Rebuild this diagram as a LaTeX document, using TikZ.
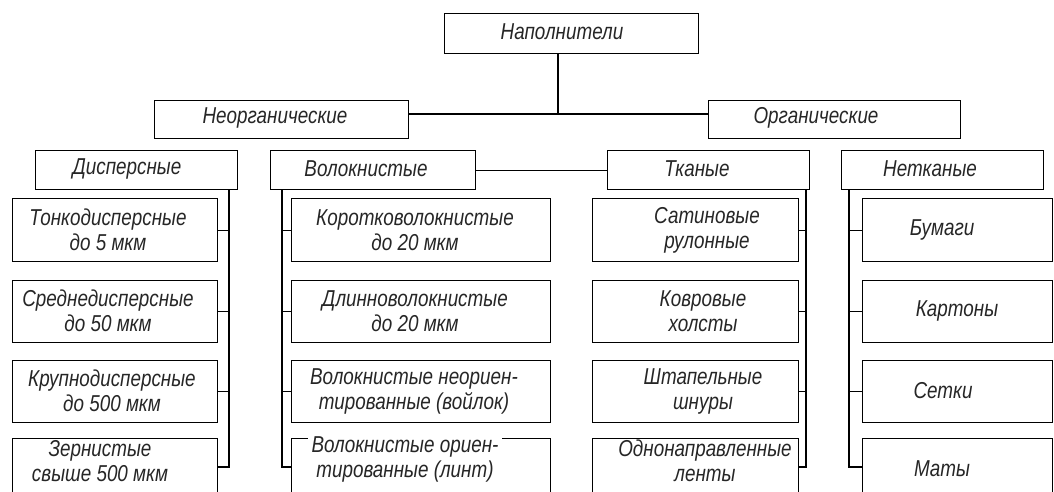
\documentclass[tikz,border=0pt]{standalone}
\usepackage{fontspec}
\newfontfamily\gost[FakeStretch=0.82]{Liberation Sans}
\usetikzlibrary{calc}
\begin{document}
\begin{tikzpicture}[x=1pt,y=-1pt,
  box/.style={draw, line width=1.4pt, anchor=north west, inner sep=0pt},
  txt/.style={font=\gost\itshape\fontsize{23}{25}\selectfont, text=black!85, align=center, inner sep=0pt},
  link/.style={line width=1.4pt}]
\useasboundingbox (0,0) rectangle (1054,492);
\clip (0,0) rectangle (1054,492);
% top levels
\node[box, minimum width=254pt, minimum height=40pt] (root) at (444,13) {};
\node[box, minimum width=254pt, minimum height=38pt] (inorg) at (154,100) {};
\node[box, minimum width=252pt, minimum height=38pt] (org) at (708,100) {};
\node[box, minimum width=202pt, minimum height=39pt] (disp) at (35,150) {};
\node[box, minimum width=205pt, minimum height=39pt] (volok) at (270,150) {};
\node[box, minimum width=202pt, minimum height=39pt] (tkan) at (607,150) {};
\node[box, minimum width=202pt, minimum height=39pt] (netk) at (841,150) {};
\node[txt] at (562,32) {Наполнители};
\node[txt] at (275,118) {Неорганические};
\node[txt] at (816,118) {Органические};
\node[txt] at (127,169) {Дисперсные};
\node[txt] at (366,169) {Волокнистые};
\node[txt] at (697,169) {Тканые};
\node[txt] at (930,169) {Нетканые};
% children boxes
\foreach \c/\x/\w in {D/12/205, V/291/259, T/592/206, N/862/190}{
  \node[box, minimum width=\w pt, minimum height=63pt] (\c1) at (\x,198) {};
  \node[box, minimum width=\w pt, minimum height=62pt] (\c2) at (\x,280) {};
  \node[box, minimum width=\w pt, minimum height=62pt] (\c3) at (\x,360) {};
  \node[box, minimum width=\w pt, minimum height=58pt] (\c4) at (\x,438) {};
}
% texts
\node[txt] at (108,230) {Тонкодисперсные\\до 5 мкм};
\node[txt] at (108,311) {Среднедисперсные\\до 50 мкм};
\node[txt] at (112,391) {Крупнодисперсные\\до 500 мкм};
\node[txt] at (100,461) {Зернистые\\свыше 500 мкм};
\node[txt] at (415,230) {Коротковолокнистые\\до 20 мкм};
\node[txt] at (415,311) {Длинноволокнистые\\до 20 мкм};
\node[txt] at (414,391) {Волокнистые неориен-\\тированные (войлок)};
\node[txt, fill=white, inner xsep=4pt, inner ysep=2pt, anchor=north] at (405,434) {Волокнистые ориен-\\тированные (линт)};
\node[txt] at (707,230) {Сатиновые\\рулонные};
\node[txt] at (703,311) {Ковровые\\холсты};
\node[txt] at (703,391) {Штапельные\\шнуры};
\node[txt] at (705,461) {Однонаправленные\\ленты};
\node[txt] at (942,230) {Бумаги};
\node[txt] at (957,311) {Картоны};
\node[txt] at (943,391) {Сетки};
\node[txt] at (942,469) {Маты};
% connectors
\coordinate (j) at (558,114);
\draw[link] (root.south -| j) -- (j);
\draw[link] (inorg.east |- j) -- (org.west |- j);
\draw[link] (volok.east) -- (tkan.west);
\coordinate (db) at (229,467);
\coordinate (vb) at (282,467);
\coordinate (tb) at (806,467);
\coordinate (nb) at (849,467);
\draw[link] (disp.south -| db) -- (db) -- (D4.east |- db);
\draw[link] (volok.south -| vb) -- (vb) -- (V4.west |- vb);
\draw[link] (tkan.south -| tb) -- (tb) -- (T4.east |- tb);
\draw[link] (netk.south -| nb) -- (nb) -- (N4.west |- nb);
\foreach \i in {1,2,3}{
  \draw[link] (D\i.east) -- (D\i.east -| db);
  \draw[link] (V\i.west) -- (V\i.west -| vb);
  \draw[link] (T\i.east) -- (T\i.east -| tb);
  \draw[link] (N\i.west) -- (N\i.west -| nb);
}
\end{tikzpicture}
\end{document}
